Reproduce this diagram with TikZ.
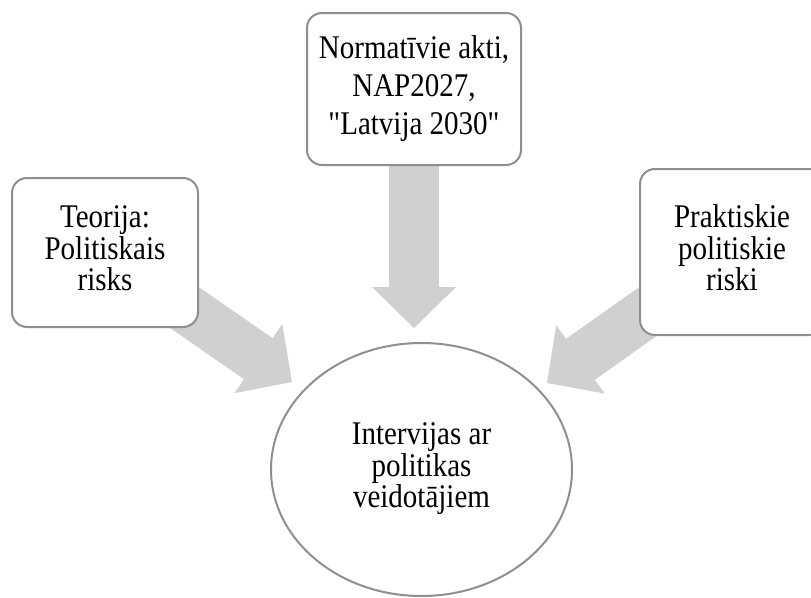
\documentclass[tikz,border=0pt]{standalone}
\usepackage{fontspec}
\usepackage{graphicx}
\newfontfamily\lserif{Liberation Serif}
\usetikzlibrary{arrows.meta,backgrounds,shapes.geometric}
\definecolor{boxline}{HTML}{8F8F8F}
\definecolor{arrowfill}{HTML}{D0D0D0}
\newcommand\vtext[2]{\scalebox{1}[1.14]{\lserif\fontsize{29}{#1}\selectfont\begin{tabular}{@{}c@{}}#2\end{tabular}}}
\begin{document}
\begin{tikzpicture}[x=1pt,y=-1pt,
  box/.style={draw=boxline, line width=2pt, fill=white, rounded corners=15pt, inner sep=0pt},
  oval/.style={draw=boxline, line width=2pt, ellipse, inner sep=0pt},
  bigarrow/.style={draw=arrowfill, line width=50pt, line cap=butt,
    -{Triangle[length=41pt,width=84pt,line width=0pt]}}]
\clip (0,0) rectangle (811,597);
\node[box, minimum width=214pt, minimum height=152pt] (norm) at (414,89)
  {\vtext{33}{Normatīvie akti,\\NAP2027,\\"Latvija 2030"}};
\node[box, minimum width=186pt, minimum height=149pt] (teor) at (105,252.5)
  {\vtext{26}{Teorija:\\Politiskais\\risks}};
\node[box, minimum width=184pt, minimum height=166pt] (prakt) at (732,252)
  {\vtext{26}{Praktiskie\\politiskie\\riski}};
\node[oval, minimum width=301pt, minimum height=253pt] (intv) at (421.5,469.5)
  {\vtext{26}{Intervijas ar\\politikas\\veidotājiem}};
\coordinate (tipT) at (414,328);
\coordinate (tipL) at (292,382);
\coordinate (tipR) at (547,383);
\begin{scope}[on background layer]
\draw[bigarrow] (norm.center) -- (tipT);
\draw[bigarrow] (teor.center) -- (tipL);
\draw[bigarrow] (prakt.center) -- (tipR);
\end{scope}
\end{tikzpicture}
\end{document}
